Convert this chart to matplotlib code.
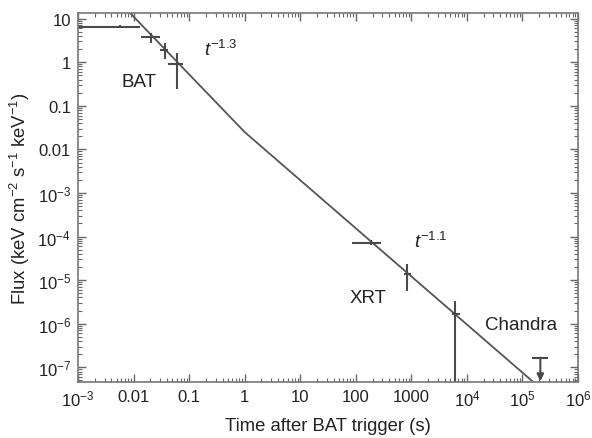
import matplotlib
matplotlib.use("Agg")
import matplotlib.pyplot as plt
from matplotlib.ticker import LogLocator, FixedLocator, FixedFormatter, NullFormatter

plt.rcParams['font.family'] = ['Liberation Sans', 'DejaVu Sans']
plt.rcParams['mathtext.fontset'] = 'custom'
plt.rcParams['mathtext.rm'] = 'Liberation Sans'
plt.rcParams['mathtext.it'] = 'Liberation Sans:italic'

# BAT points (time, flux, x errors low/high, flux errors low/high)
bat_t = [0.0057, 0.0203, 0.0367, 0.0596]
bat_f = [6.6, 3.7, 1.94, 0.92]
bat_tlo = [0.0005, 0.0134, 0.0296, 0.0422]
bat_thi = [0.013, 0.030, 0.0415, 0.0763]
bat_flo = [6.2, 2.7, 1.21, 0.24]
bat_fhi = [7.0, 4.6, 2.75, 1.63]

# XRT points
xrt_t = [186, 838, 6030]
xrt_f = [7.2e-5, 1.37e-5, 1.69e-6]
xrt_tlo = [87, 750, 5400]
xrt_thi = [290, 1000, 7600]
xrt_flo = [6.3e-5, 5.7e-6, 1e-9]
xrt_fhi = [8.2e-5, 2.3e-5, 3.4e-6]

# Chandra upper limit
ch_t = [2.1e5]
ch_f = [1.66e-7]

# broken power-law model vertices
model_t = [0.008, 1.0, 1.6e5]
model_f = [15, 0.025, 4.5e-8]

grey = '#4a4a4a'

fig = plt.figure(figsize=(5.92, 4.39), dpi=100)
ax = fig.add_axes([78 / 592, 1 - 383 / 439, 500 / 592, 369 / 439])

ax.plot(model_t, model_f, color='#555555', lw=1.3)

def err(t, f, tlo, thi, flo, fhi):
    xe = [[a - b for a, b in zip(t, tlo)], [b - a for a, b in zip(t, thi)]]
    ye = [[a - b for a, b in zip(f, flo)], [b - a for a, b in zip(f, fhi)]]
    ax.errorbar(t, f, xerr=xe, yerr=ye, fmt='none', ecolor=grey, elinewidth=1.5, capsize=0)

err(bat_t, bat_f, bat_tlo, bat_thi, bat_flo, bat_fhi)
err(xrt_t, xrt_f, xrt_tlo, xrt_thi, xrt_flo, xrt_fhi)

# Chandra upper limit: cap plus arrow down
ax.errorbar(ch_t, ch_f, xerr=[[ch_t[0] * 0.3], [ch_t[0] * 0.4]], fmt='none',
            ecolor=grey, elinewidth=1.5)
ax.annotate('', xy=(ch_t[0], 4.8e-8), xytext=(ch_t[0], ch_f[0]),
            arrowprops=dict(arrowstyle='-|>', color=grey, lw=1.5,
                            mutation_scale=10, shrinkA=0, shrinkB=0))

ax.set_xscale('log')
ax.set_yscale('log')
ax.set_xlim(1e-3, 1e6)
ax.set_ylim(4.6e-8, 13.5)

xticks = [1e-3, 1e-2, 1e-1, 1, 10, 100, 1000, 1e4, 1e5, 1e6]
xlabels = ['10$^{-3}$', '0.01', '0.1', '1', '10', '100', '1000',
           '10$^{4}$', '10$^{5}$', '10$^{6}$']
yticks = [1e-7, 1e-6, 1e-5, 1e-4, 1e-3, 1e-2, 1e-1, 1, 10]
ylabels = ['10$^{-7}$', '10$^{-6}$', '10$^{-5}$', '10$^{-4}$', '10$^{-3}$',
           '0.01', '0.1', '1', '10']
ax.xaxis.set_major_locator(FixedLocator(xticks))
ax.xaxis.set_major_formatter(FixedFormatter(xlabels))
ax.yaxis.set_major_locator(FixedLocator(yticks))
ax.yaxis.set_major_formatter(FixedFormatter(ylabels))
for a in (ax.xaxis, ax.yaxis):
    a.set_minor_locator(LogLocator(base=10, subs=range(2, 10), numticks=20))
    a.set_minor_formatter(NullFormatter())

ax.tick_params(which='both', direction='in', top=True, right=True,
               color='#666666', labelsize=12, labelcolor='#222222', pad=5)
ax.tick_params(which='major', length=6, width=1)
ax.tick_params(which='minor', length=3, width=0.8)
for s in ax.spines.values():
    s.set_color('#777777')
    s.set_linewidth(1.2)

ax.set_xlabel('Time after BAT trigger (s)', fontsize=13.3, color='#222222', labelpad=6)
ax.set_ylabel('Flux (keV cm$^{-2}$ s$^{-1}$ keV$^{-1}$)', fontsize=13.3,
              color='#222222', labelpad=4)

tc = '#222222'
fs = 13.5
ax.text(0.0125, 0.37, 'BAT', fontsize=fs, color=tc, ha='center', va='center')
ax.text(0.37, 1.97, '$t^{-1.3}$', fontsize=fs, color=tc, ha='center', va='center')
ax.text(2200, 8.1e-5, '$t^{-1.1}$', fontsize=fs, color=tc, ha='center', va='center')
ax.text(164, 3.9e-6, 'XRT', fontsize=fs, color=tc, ha='center', va='center')
ax.text(9.3e4, 9.5e-7, 'Chandra', fontsize=fs, color=tc, ha='center', va='center')

fig.savefig('out.png', dpi=100)
